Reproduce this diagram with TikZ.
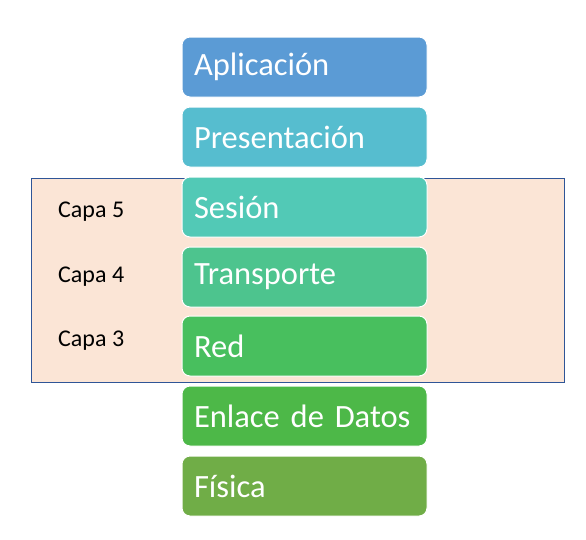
\documentclass[tikz,border=0pt]{standalone}
\usepackage{fontspec}
\setmainfont{Carlito}
\definecolor{c1}{HTML}{5B9BD5}
\definecolor{c2}{HTML}{56BDCF}
\definecolor{c3}{HTML}{52C9B6}
\definecolor{c4}{HTML}{4DC48E}
\definecolor{c5}{HTML}{48BF5E}
\definecolor{c6}{HTML}{4DB848}
\definecolor{c7}{HTML}{70AD47}
\definecolor{peach}{HTML}{FBE5D6}
\definecolor{bgborder}{HTML}{2F5597}
\tikzset{
  layer/.style={draw=white, line width=1pt, rounded corners=8pt, minimum width=245pt, minimum height=60pt,
    text width=221pt, inner xsep=12pt, align=left, text=white, font=\fontsize{32.5}{36}\selectfont, anchor=center},
  capa/.style={anchor=west, inner sep=0pt, font=\fontsize{24}{28}\selectfont, text=black},
}
\begin{document}
\begin{tikzpicture}[x=1pt,y=-1pt]
\useasboundingbox (0,0) rectangle (586,539);
\node[draw=bgborder, fill=peach, line width=0.8pt, minimum width=533pt, minimum height=204pt, inner sep=0pt, anchor=north west] (bg) at (31,178) {};
\node[layer, fill=c1] (b1) at (304.5,67) {Aplicación};
\node[layer, fill=c2] (b2) at (304.5,137) {Presentación};
\node[layer, fill=c3] (b3) at (304.5,207) {Sesión};
\node[layer, fill=c4] (b4) at (304.5,277) {Transporte};
\node[layer, fill=c5] (b5) at (304.5,346) {Red};
\node[layer, fill=c6] (b6) at (304.5,416) {Enlace de Datos};
\node[layer, fill=c7] (b7) at (304.5,486) {Física};
\node[capa] (l5) at (58,212) {Capa 5};
\node[capa] (l4) at (58,277) {Capa 4};
\node[capa] (l3) at (58,341) {Capa 3};
\end{tikzpicture}
\end{document}
